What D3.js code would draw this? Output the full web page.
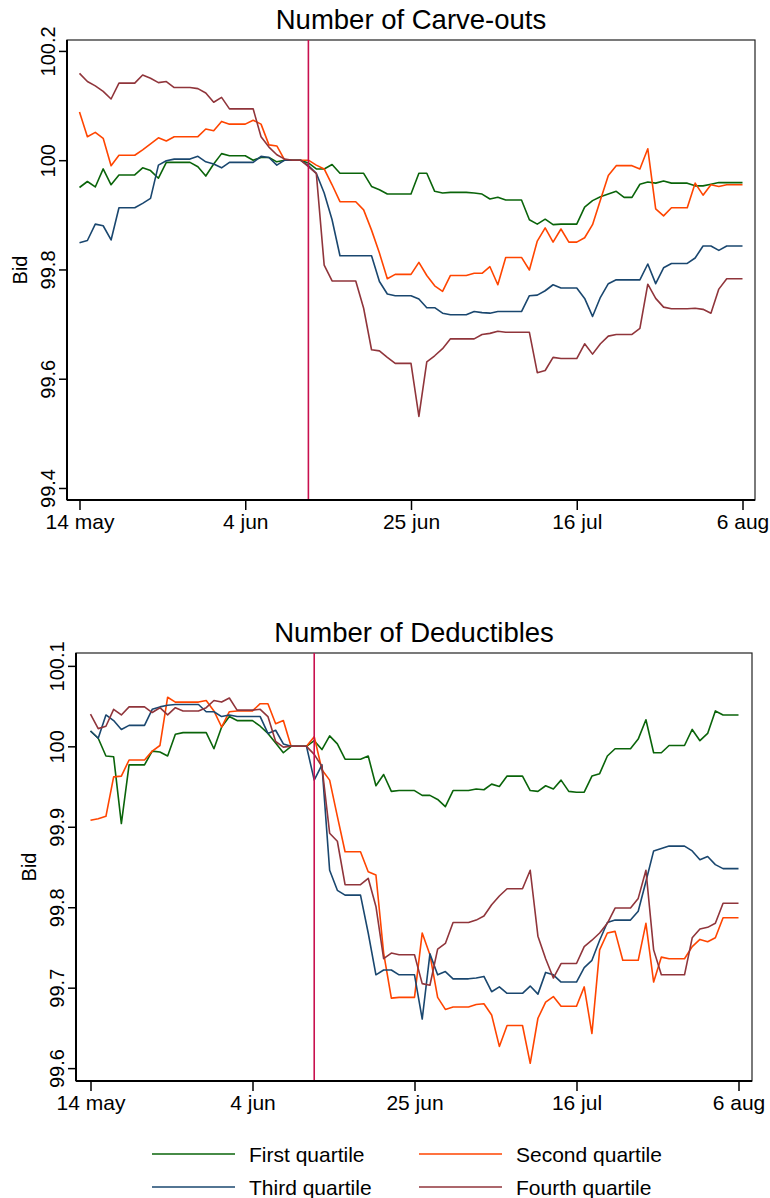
<!DOCTYPE html>
<html><head><meta charset="utf-8">
<script src="https://cdn.jsdelivr.net/npm/d3@7"></script>
<style>
body{margin:0;background:#fff}
text{font-family:"Liberation Sans",Arial,Helvetica,sans-serif;fill:#000}
</style>
</head><body>
<svg id="chart" width="770" height="1198"></svg>
<script>
// ---------- data ----------
const dayTickValues = [0, 21, 42, 63, 84];
const dayTickLabels = ["14 may", "4 jun", "25 jun", "16 jul", "6 aug"];
const eventDay = 29;
const seriesNames = ["First quartile", "Second quartile", "Third quartile", "Fourth quartile"];

const carveYTicks = [99.4, 99.6, 99.8, 100, 100.2];
const carveYLabels = ["99.4", "99.6", "99.8", "100", "100.2"];
const deductYTicks = [99.6, 99.7, 99.8, 99.9, 100, 100.1];
const deductYLabels = ["99.6", "99.7", "99.8", "99.9", "100", "100.1"];

const carveQ1 = [99.950,99.961,99.951,99.984,99.955,99.973,99.973,99.973,99.986,99.981,99.967,99.996,99.996,99.996,99.996,99.988,99.971,99.993,100.012,100.008,100.008,100.008,100.000,100.005,100.005,99.997,100.000,100.000,100.000,99.995,
 99.984,99.984,99.992,99.976,99.976,99.976,99.976,99.952,99.946,99.938,99.938,99.938,99.938,99.976,99.976,99.943,99.940,99.941,99.941,99.941,99.940,99.938,99.929,99.932,99.927,99.927,99.927,
 99.891,99.883,99.892,99.882,99.883,99.883,99.883,99.914,99.926,99.933,99.938,99.943,99.932,99.932,99.956,99.960,99.958,99.962,99.958,99.958,99.958,99.953,99.953,99.956,99.959,99.959,99.959,99.959];
const carveQ2 = [100.088,100.043,100.051,100.040,99.990,100.009,100.009,100.009,100.019,100.030,100.041,100.035,100.043,100.043,100.043,100.043,100.057,100.054,100.071,100.066,100.066,100.066,100.073,100.066,100.028,100.026,100.000,100.000,100.000,100.000,
 99.991,99.984,99.955,99.924,99.924,99.924,99.909,99.872,99.830,99.783,99.791,99.791,99.791,99.813,99.789,99.770,99.760,99.789,99.789,99.789,99.793,99.793,99.805,99.772,99.822,99.822,99.822,
 99.799,99.852,99.876,99.850,99.874,99.850,99.850,99.858,99.882,99.927,99.972,99.990,99.990,99.990,99.984,100.021,99.911,99.898,99.913,99.913,99.913,99.958,99.936,99.955,99.952,99.955,99.955,99.955];
const carveQ3 = [99.849,99.853,99.883,99.880,99.854,99.913,99.913,99.913,99.921,99.930,99.991,99.999,100.002,100.002,100.002,100.007,99.997,99.993,99.986,99.996,99.996,99.996,99.996,100.007,100.005,99.991,100.000,100.000,100.000,99.990,
 99.976,99.940,99.891,99.825,99.825,99.825,99.825,99.825,99.778,99.755,99.752,99.752,99.752,99.746,99.730,99.730,99.720,99.717,99.717,99.717,99.723,99.721,99.720,99.723,99.723,99.723,99.723,
 99.752,99.753,99.761,99.772,99.766,99.766,99.766,99.747,99.714,99.749,99.774,99.781,99.781,99.781,99.781,99.810,99.774,99.803,99.811,99.811,99.811,99.821,99.843,99.843,99.835,99.843,99.843,99.843];
const carveQ4 = [100.159,100.144,100.136,100.126,100.112,100.141,100.141,100.141,100.156,100.150,100.142,100.144,100.133,100.133,100.133,100.131,100.123,100.106,100.115,100.094,100.094,100.094,100.094,100.043,100.024,100.010,100.002,100.000,100.000,99.988,
 99.976,99.808,99.779,99.779,99.779,99.779,99.729,99.653,99.651,99.639,99.628,99.628,99.628,99.531,99.631,99.642,99.655,99.673,99.673,99.673,99.673,99.681,99.683,99.687,99.685,99.685,99.685,
 99.685,99.611,99.615,99.639,99.637,99.637,99.637,99.664,99.645,99.664,99.678,99.681,99.681,99.681,99.692,99.773,99.747,99.731,99.728,99.728,99.728,99.729,99.727,99.720,99.764,99.783,99.783,99.783];

const deductQ1 = [100.019,100.010,99.988,99.987,99.904,99.977,99.977,99.977,99.994,99.993,99.988,100.015,100.017,100.017,100.017,100.017,99.997,100.024,100.037,100.032,100.032,100.032,100.025,100.016,100.004,99.992,100.000,100.000,100.000,100.007,
 99.996,100.013,100.003,99.984,99.984,99.984,99.988,99.951,99.965,99.944,99.945,99.945,99.945,99.939,99.939,99.934,99.925,99.945,99.945,99.945,99.947,99.946,99.953,99.950,99.963,99.963,99.963,
 99.945,99.944,99.951,99.947,99.958,99.944,99.943,99.943,99.963,99.966,99.988,99.997,99.997,99.997,100.009,100.033,99.992,99.992,100.001,100.001,100.001,100.021,100.007,100.016,100.044,100.039,100.039,100.039];
const deductQ2 = [99.908,99.910,99.913,99.962,99.963,99.983,99.983,99.983,99.994,100.001,100.061,100.055,100.055,100.055,100.055,100.057,100.044,100.024,100.043,100.044,100.044,100.044,100.053,100.053,100.028,100.032,100.000,100.000,100.000,100.012,
 99.971,99.958,99.913,99.869,99.869,99.869,99.844,99.840,99.743,99.687,99.688,99.688,99.688,99.768,99.741,99.688,99.673,99.676,99.676,99.676,99.679,99.680,99.666,99.627,99.653,99.653,99.653,
 99.606,99.662,99.682,99.689,99.677,99.677,99.677,99.701,99.643,99.747,99.768,99.770,99.734,99.734,99.734,99.780,99.707,99.738,99.736,99.736,99.736,99.751,99.760,99.757,99.762,99.787,99.787,99.787];
const deductQ3 = [100.019,100.010,100.039,100.032,100.021,100.026,100.026,100.026,100.046,100.049,100.051,100.052,100.052,100.052,100.052,100.043,100.043,100.037,100.039,100.037,100.037,100.037,100.037,100.016,100.020,100.003,100.000,100.000,100.000,99.958,
 99.977,99.846,99.821,99.815,99.815,99.815,99.768,99.716,99.722,99.722,99.716,99.716,99.716,99.661,99.742,99.716,99.720,99.711,99.711,99.711,99.712,99.714,99.695,99.701,99.693,99.693,99.693,
 99.702,99.692,99.719,99.716,99.707,99.707,99.707,99.725,99.734,99.759,99.781,99.784,99.784,99.784,99.795,99.832,99.870,99.873,99.876,99.876,99.876,99.870,99.859,99.863,99.853,99.848,99.848,99.848];
const deductQ4 = [100.040,100.022,100.025,100.046,100.039,100.049,100.049,100.049,100.042,100.048,100.039,100.048,100.044,100.044,100.044,100.048,100.057,100.055,100.060,100.045,100.045,100.045,100.046,100.037,100.006,99.999,100.000,100.000,100.000,99.990,
 99.975,99.892,99.882,99.828,99.828,99.828,99.836,99.801,99.736,99.743,99.741,99.741,99.741,99.705,99.703,99.748,99.755,99.781,99.781,99.781,99.784,99.789,99.803,99.814,99.823,99.823,99.823,
 99.846,99.764,99.736,99.712,99.730,99.730,99.730,99.751,99.759,99.768,99.780,99.799,99.799,99.799,99.811,99.846,99.747,99.716,99.716,99.716,99.716,99.762,99.773,99.775,99.780,99.805,99.805,99.805];

// ---------- styles / layout ----------
const colors = ["#0a640a", "#ff4500", "#1a476f", "#90353b"];
const eventColor = "#c8104e";
const svg = d3.select("#chart");

function panel(opt) {
  const g = svg.append("g");
  const x = d3.scaleLinear().domain([0, 84]).range([opt.dataX0, opt.dataX1]);
  const y = d3.scaleLinear().domain(opt.yDomain).range([opt.bottom, opt.top]);

  // frame
  g.append("rect").attr("x", opt.left).attr("y", opt.top)
    .attr("width", opt.right - opt.left).attr("height", opt.bottom - opt.top)
    .attr("fill", "none").attr("stroke", "#222").attr("stroke-width", 1.2);

  // lines
  const line = d3.line().x((d, i) => x(i)).y(d => y(d));
  opt.series.forEach((s, k) => {
    g.append("path").datum(s).attr("d", line)
      .attr("fill", "none").attr("stroke", colors[k])
      .attr("stroke-width", 1.6).attr("stroke-linejoin", "round");
  });

  // event line
  g.append("line").attr("x1", x(eventDay)).attr("x2", x(eventDay))
    .attr("y1", opt.top).attr("y2", opt.bottom)
    .attr("stroke", eventColor).attr("stroke-width", 1.6);

  // y axis
  const ya = g.append("g").attr("transform", `translate(${opt.left},0)`)
    .call(d3.axisLeft(y).tickValues(opt.yTicks).tickFormat((d, i) => opt.yLabels[i]).tickSize(8).tickSizeOuter(0));
  ya.select(".domain").attr("stroke", "#000").attr("stroke-width", 2).attr("d", `M0,${opt.top}V${opt.bottom}`);
  ya.selectAll(".tick line").attr("stroke", "#000").attr("stroke-width", 1.5);
  ya.selectAll(".tick text").attr("transform", "rotate(-90)")
    .attr("x", 0).attr("y", -12).attr("dy", 0).attr("text-anchor", "middle")
    .style("font-size", "20px").style("font-family", '"Liberation Sans",Arial,sans-serif').attr("fill", "#000");

  // x axis
  const xa = g.append("g").attr("transform", `translate(0,${opt.bottom})`)
    .call(d3.axisBottom(x).tickValues(dayTickValues).tickFormat((d, i) => dayTickLabels[i]).tickSize(10).tickSizeOuter(0));
  xa.select(".domain").attr("stroke", "#000").attr("stroke-width", 2).attr("d", `M${opt.left},0H${opt.right}`);
  xa.selectAll(".tick line").attr("stroke", "#000").attr("stroke-width", 1.5);
  xa.selectAll(".tick text").attr("y", 29).attr("dy", 0)
    .style("font-size", "21px").style("font-family", '"Liberation Sans",Arial,sans-serif').attr("fill", "#000");

  // y title
  g.append("text").attr("transform", `translate(${opt.left - 40},${(opt.top + opt.bottom) / 2}) rotate(-90)`)
    .attr("text-anchor", "middle").style("font-size", "20px").text("Bid");

  // title
  g.append("text").attr("x", (opt.left + opt.right) / 2).attr("y", opt.top - 11)
    .attr("text-anchor", "middle").style("font-size", "27.5px").text(opt.title);
}

panel({
  title: "Number of Carve-outs",
  left: 67, right: 755, top: 40, bottom: 500,
  dataX0: 79.5, dataX1: 742.5,
  yDomain: [99.378, 100.220],
  yTicks: carveYTicks, yLabels: carveYLabels,
  series: [carveQ1, carveQ2, carveQ3, carveQ4]
});
panel({
  title: "Number of Deductibles",
  left: 76, right: 752, top: 653, bottom: 1081,
  dataX0: 90.5, dataX1: 738.5,
  yDomain: [99.584, 100.116],
  yTicks: deductYTicks, yLabels: deductYLabels,
  series: [deductQ1, deductQ2, deductQ3, deductQ4]
});

// legend
const legendPos = [[152, 1154], [419, 1154], [152, 1187], [419, 1187]];
const lg = svg.append("g");
seriesNames.forEach((name, k) => {
  const [lx, ly] = legendPos[k];
  lg.append("line").attr("x1", lx).attr("x2", lx + 83).attr("y1", ly).attr("y2", ly)
    .attr("stroke", colors[k]).attr("stroke-width", 1.6);
  lg.append("text").attr("x", lx + 97).attr("y", ly + 7.5).style("font-size", "21px").text(name);
});
</script>
</body></html>
